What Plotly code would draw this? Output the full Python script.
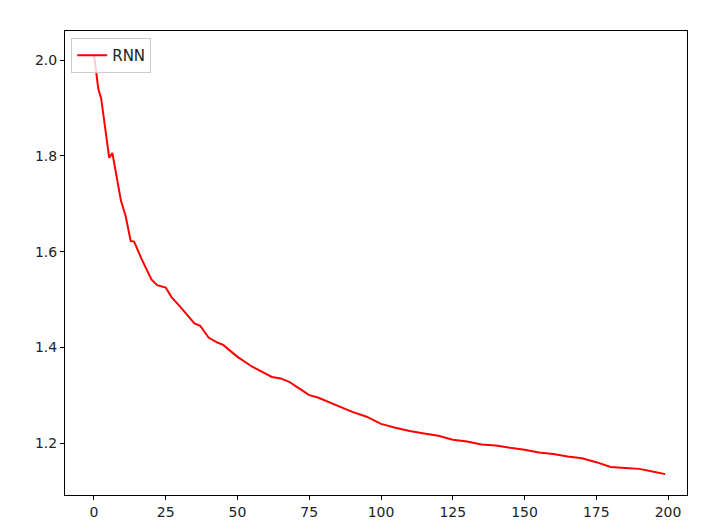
import plotly.graph_objects as go

epochs = [0, 1, 1.5, 2.5, 3.5, 4, 5.3, 6.4, 7.5, 9.4, 11, 12.8, 14, 16.4, 20, 22, 25, 27, 30, 33, 35, 37, 40, 43, 45,
          48, 50, 55, 58, 62, 65, 68, 70, 75, 78, 82, 86, 90, 95, 100, 105, 110, 115, 120, 125, 130, 135, 140,
          145, 150, 155, 160, 165, 170, 175, 180, 185, 190, 195, 199]
loss = [2.012, 1.97, 1.94, 1.92, 1.877, 1.862, 1.796, 1.806, 1.77, 1.706, 1.675, 1.622, 1.621, 1.587, 1.542,
        1.53, 1.525, 1.505, 1.485, 1.465, 1.45, 1.445, 1.42, 1.41, 1.405, 1.39, 1.38, 1.36, 1.35, 1.338,
        1.335, 1.328, 1.32, 1.30, 1.295, 1.285, 1.275, 1.265, 1.255, 1.24, 1.232, 1.225, 1.22, 1.215, 1.207,
        1.203, 1.197, 1.195, 1.19, 1.186, 1.18, 1.177, 1.172, 1.168, 1.16, 1.15, 1.148, 1.146, 1.14, 1.135]

fig = go.Figure()
fig.add_trace(go.Scatter(x=epochs, y=loss, mode="lines", name="RNN",
                         line=dict(color="red", width=2)))

axis = dict(showgrid=False, zeroline=False, showline=True, mirror=True, linecolor="black",
            linewidth=1, ticks="outside", ticklen=4, tickcolor="black",
            tickfont=dict(size=14, color="#222"))
fig.update_layout(
    width=717, height=531,
    margin=dict(l=57, r=38, t=23, b=44),
    paper_bgcolor="white", plot_bgcolor="white",
    font=dict(family="DejaVu Sans"),
    xaxis=dict(range=[-10.1, 206.6], tickvals=[0, 25, 50, 75, 100, 125, 150, 175, 200], **axis),
    yaxis=dict(range=[1.0914, 2.061], tickvals=[1.2, 1.4, 1.6, 1.8, 2.0],
               ticktext=["1.2", "1.4", "1.6", "1.8", "2.0"], **axis),
    showlegend=True,
    legend=dict(x=0.01, y=0.985, xanchor="left", yanchor="top", bgcolor="rgba(255,255,255,0.8)",
                bordercolor="#ccc", borderwidth=1, font=dict(size=15, color="#222")),
)
fig.write_html("out.html")
